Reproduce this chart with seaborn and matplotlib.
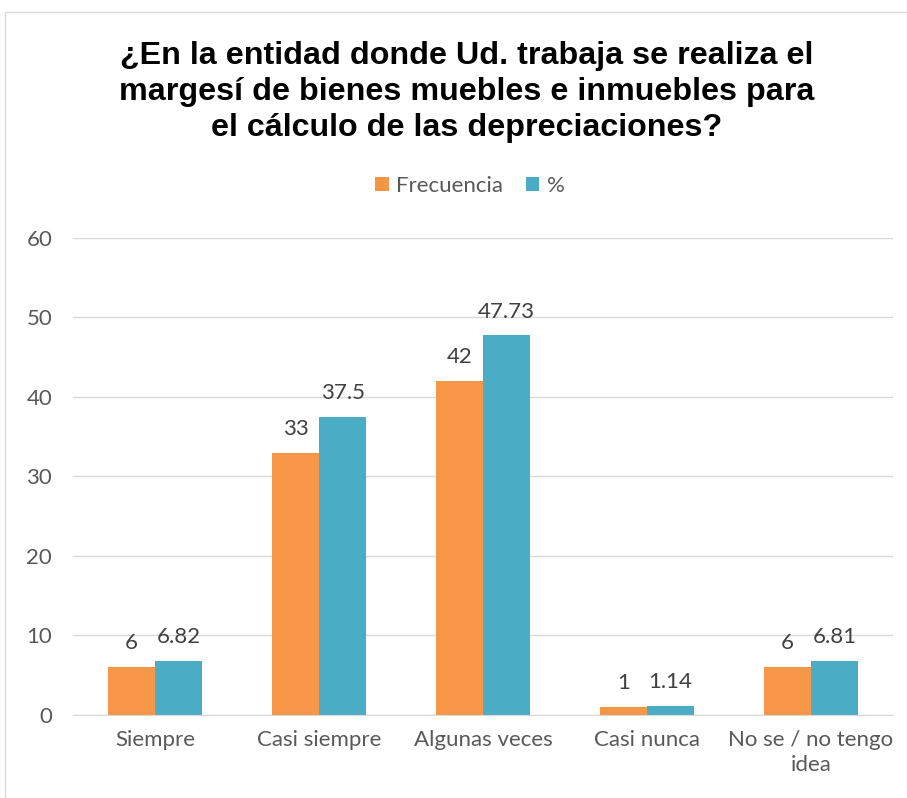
import pandas as pd
import matplotlib.pyplot as plt
import seaborn as sns
from matplotlib.patches import Rectangle

categorias = ['Siempre', 'Casi siempre', 'Algunas veces', 'Casi nunca', 'No se / no tengo\nidea']
frecuencia = [6, 33, 42, 1, 6]
porcentaje = [6.82, 37.5, 47.73, 1.14, 6.81]
series = ['Frecuencia', '%']
colores = ['#F79646', '#4BACC6']

df = pd.DataFrame({
    'categoria': categorias * 2,
    'serie': [series[0]] * len(categorias) + [series[1]] * len(categorias),
    'valor': frecuencia + porcentaje,
})

sns.set_style('white')
plt.rcParams['font.family'] = ['Lato', 'DejaVu Sans']

fig = plt.figure(figsize=(9.07, 7.98), dpi=100)
ax = fig.add_axes([0.0805, 0.104, 0.904, 0.598])

sns.barplot(data=df, x='categoria', y='valor', hue='serie', palette=colores,
            width=0.575, saturation=1, linewidth=0, ax=ax, legend=True)

ax.set_ylim(0, 60)
ax.set_yticks(range(0, 61, 10))
ax.set_xlabel('')
ax.set_ylabel('')
ax.yaxis.grid(True, color='#D9D9D9', linewidth=1)
ax.set_axisbelow(True)
for s in ['top', 'right', 'left']:
    ax.spines[s].set_visible(False)
ax.spines['bottom'].set_color('#D9D9D9')
ax.tick_params(axis='both', length=0, labelsize=16, labelcolor='#595959')
ax.tick_params(axis='x', pad=11)
ax.tick_params(axis='y', pad=15)
for lbl in ax.get_xticklabels():
    lbl.set_linespacing(1.3)

for cont in ax.containers:
    ax.bar_label(cont, labels=[f'{v:g}' for v in cont.datavalues], padding=10,
                 fontsize=16, color='#404040')

ax.legend(loc='center', bbox_to_anchor=(0.484, 1.109), ncol=2, frameon=False,
          fontsize=16, labelcolor='#595959', handlelength=0.6, handleheight=0.6,
          handletextpad=0.35, columnspacing=1.0)

fig.text(0.514, 0.8845,
         '¿En la entidad donde Ud. trabaja se realiza el\nmargesí de bienes muebles e inmuebles para\nel cálculo de las depreciaciones?',
         ha='center', va='center', fontsize=23.2, fontweight='bold', color='black',
         family=['Liberation Sans', 'DejaVu Sans'], linespacing=1.25)

fig.patches.append(Rectangle((5 / 907, -0.1), 1.1, 1 - 12 / 798 + 0.1,
                             transform=fig.transFigure, fill=False,
                             edgecolor='#D9D9D9', linewidth=1))

fig.savefig('out.png', dpi=100)
